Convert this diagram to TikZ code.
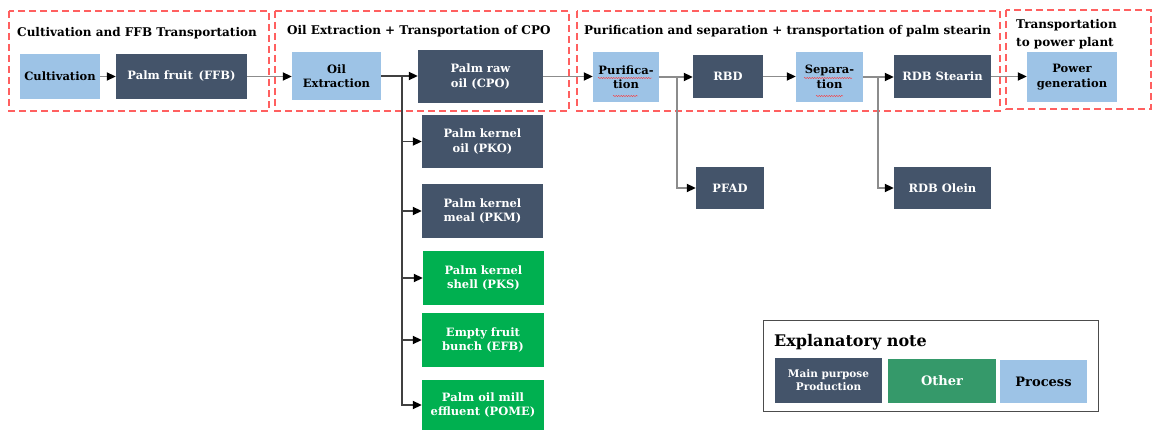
\documentclass[tikz,border=0pt]{standalone}
\usepackage{fontspec}
\setmainfont{DejaVu Serif}
\usepackage{xcolor}
\usepackage{tikz}
\usetikzlibrary{arrows.meta, decorations.pathmorphing}

\definecolor{slate}{HTML}{44546A}
\definecolor{procblue}{HTML}{9DC3E6}
\definecolor{bygreen}{HTML}{00B050}
\definecolor{notegreen}{HTML}{35996A}
\definecolor{stagered}{HTML}{FF6060}
\definecolor{flowgray}{HTML}{8C8C8C}
\definecolor{trunkgray}{HTML}{404040}

\tikzset{
    cellbase/.style={inner sep=0pt, align=center, font=\bfseries\fontsize{11.5}{14.5}\selectfont},
    wh/.style 2 args={minimum width=#1pt, minimum height=#2pt},
    proc/.style={cellbase, fill=procblue, text=black},
    prod/.style={cellbase, fill=slate, text=white},
    other/.style={cellbase, fill=bygreen, text=white},
    stage/.style={draw=stagered, dash pattern=on 7pt off 4pt, line width=1.2pt},
    stagetitle/.style={anchor=west, inner sep=0pt, align=left, font=\bfseries\fontsize{12}{18}\selectfont},
    flow/.style={draw=flowgray, line width=1.9pt, -{Triangle[length=9pt, width=8pt, color=black]}},
    squiggle/.style={draw=red!80, line width=0.4pt, decorate, decoration={snake, amplitude=0.6pt, segment length=2.5pt}}
}

\begin{document}
\begin{tikzpicture}[x=1pt, y=-1pt]
    \useasboundingbox[fill=white] (0,0) rectangle (1156,430);

    \draw[stage] (9,11) rectangle (269,111);
    \draw[stage] (275,11) rectangle (569,111);
    \draw[stage] (577,11) rectangle (1000,111);
    \draw[stage] (1006,10) rectangle (1151,109);

    \node[stagetitle] (t1) at (17,33) {Cultivation and FFB Transportation};
    \node[stagetitle] (t2) at (287,31) {Oil Extraction + Transportation of CPO};
    \node[stagetitle] (t3) at (584,31) {Purification and separation + transportation of palm stearin};
    \node[stagetitle] (t4) at (1016,34) {Transportation\\to power plant};

    \node[proc, wh={80}{45}] (cult) at (60,76.5) {Cultivation};
    \node[prod, wh={131}{45}] (ffb) at (181.5,76.5) {Palm fruit\enspace(FFB)};
    \node[proc, wh={89}{48}] (oilx) at (336.5,76) {Oil\\Extraction};
    \node[prod, wh={125}{53}] (cpo) at (480.5,76.5) {Palm raw\\oil (CPO)};

    \node[prod, wh={121}{53}] (pko) at (482.5,141.5) {Palm kernel\\oil (PKO)};
    \node[prod, wh={121}{54}] (pkm) at (482.5,211) {Palm kernel\\meal (PKM)};
    \node[other, wh={121}{54}] (pks) at (483.5,278) {Palm kernel\\shell (PKS)};
    \node[other, wh={122}{54}] (efb) at (483,340) {Empty fruit\\bunch (EFB)};
    \node[other, wh={122}{50}] (pome) at (483,405) {Palm oil mill\\effluent (POME)};

    \node[proc, wh={66}{50}] (puri) at (626,77) {Purifica-\\tion};
    \node[prod, wh={70}{43}] (rbd) at (728,76.5) {RBD};
    \node[proc, wh={67}{50}] (sepa) at (829.5,77) {Separa-\\tion};
    \node[prod, wh={97}{43}] (rdbs) at (942.5,76.5) {RDB Stearin};
    \node[proc, wh={90}{50}] (power) at (1072,77) {Power\\generation};

    \node[prod, wh={68}{42}] (pfad) at (730,188) {PFAD};
    \node[prod, wh={97}{42}] (olein) at (942.5,188) {RDB Olein};

    \draw[squiggle] (598,78) -- (652,78);
    \draw[squiggle] (613,96) -- (638,96);
    \draw[squiggle] (804,78) -- (852,78);
    \draw[squiggle] (816,96) -- (843,96);

    \draw[flow] (cult) -- (ffb);
    \draw[flow] (ffb.east) -- (oilx.west |- ffb.east);
    \draw[flow, draw=trunkgray] (oilx.east) -- (cpo.west |- oilx.east);
    \coordinate (split1) at (402,76);
    \foreach \n in {pko, pkm, pks, efb, pome}
        \draw[flow, draw=trunkgray] (split1) |- (\n.west);
    \draw[flow] (cpo.east) -- (puri.west |- cpo.east);
    \draw[flow] (puri.east) -- (rbd.west |- puri.east);
    \coordinate (split2) at (677,77);
    \draw[flow] (split2) |- (pfad.west);
    \draw[flow] (rbd.east) -- (sepa.west |- rbd.east);
    \draw[flow] (sepa.east) -- (rdbs.west |- sepa.east);
    \coordinate (split3) at (878,77);
    \draw[flow] (split3) |- (olein.west);
    \draw[flow] (rdbs.east) -- (power.west |- rdbs.east);

    \draw[draw=black!70, line width=1pt] (763,320) rectangle (1098,411);
    \node[anchor=west, inner sep=0pt, font=\bfseries\fontsize{16}{19}\selectfont] (notetitle) at (774,342) {Explanatory note};
    \node[prod, wh={107}{45}, font=\bfseries\fontsize{10.5}{13}\selectfont] (keyprod) at (828.5,380.5) {Main purpose\\Production};
    \node[other, wh={108}{44}, fill=notegreen, font=\bfseries\fontsize{13}{15}\selectfont] (keyother) at (942,381) {Other};
    \node[proc, wh={87}{43}, font=\bfseries\fontsize{13}{15}\selectfont] (keyproc) at (1043.5,381.5) {Process};

\end{tikzpicture}
\end{document}
